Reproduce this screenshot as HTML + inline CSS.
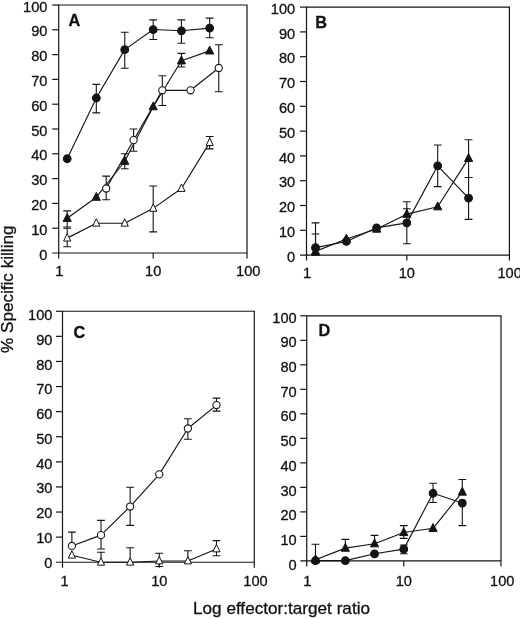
<!DOCTYPE html>
<html>
<head>
<meta charset="utf-8">
<title>Specific killing vs effector:target ratio</title>
<style>
html,body{margin:0;padding:0;background:#fff;}
body{width:520px;height:619px;overflow:hidden;}
svg{display:block;will-change:transform;transform:translateZ(0);}
text{font-family:"Liberation Sans",sans-serif;fill:#111;stroke:#111;stroke-width:0.3px;}
.t{font-size:14.6px;}
.b{font-size:15.8px;font-weight:bold;}
.l{font-size:17px;}
</style>
</head>
<body>
<svg width="520" height="619" viewBox="0 0 520 619">
<path d="M58.7 258.5 L58.7 5 L247 5 L247 258.5 M52.2 253 L247 253" fill="none" stroke="#141414" stroke-width="1.2"/>
<text x="47.4" y="259.6" text-anchor="end" class="t">0</text>
<path d="M52.2 228.2 H58.7" stroke="#141414" stroke-width="1.2"/>
<text x="47.4" y="234.8" text-anchor="end" class="t">10</text>
<path d="M52.2 203.4 H58.7" stroke="#141414" stroke-width="1.2"/>
<text x="47.4" y="210" text-anchor="end" class="t">20</text>
<path d="M52.2 178.6 H58.7" stroke="#141414" stroke-width="1.2"/>
<text x="47.4" y="185.2" text-anchor="end" class="t">30</text>
<path d="M52.2 153.8 H58.7" stroke="#141414" stroke-width="1.2"/>
<text x="47.4" y="160.4" text-anchor="end" class="t">40</text>
<path d="M52.2 129 H58.7" stroke="#141414" stroke-width="1.2"/>
<text x="47.4" y="135.6" text-anchor="end" class="t">50</text>
<path d="M52.2 104.2 H58.7" stroke="#141414" stroke-width="1.2"/>
<text x="47.4" y="110.8" text-anchor="end" class="t">60</text>
<path d="M52.2 79.4 H58.7" stroke="#141414" stroke-width="1.2"/>
<text x="47.4" y="86" text-anchor="end" class="t">70</text>
<path d="M52.2 54.6 H58.7" stroke="#141414" stroke-width="1.2"/>
<text x="47.4" y="61.2" text-anchor="end" class="t">80</text>
<path d="M52.2 29.8 H58.7" stroke="#141414" stroke-width="1.2"/>
<text x="47.4" y="36.4" text-anchor="end" class="t">90</text>
<path d="M52.2 5 H58.7" stroke="#141414" stroke-width="1.2"/>
<text x="47.4" y="11.6" text-anchor="end" class="t">100</text>
<text x="59.3" y="275.7" text-anchor="middle" class="t">1</text>
<path d="M153.2 253 V258.5" stroke="#141414" stroke-width="1.2"/>
<text x="153.2" y="275.7" text-anchor="middle" class="t">10</text>
<text x="248.2" y="275.7" text-anchor="middle" class="t">100</text>
<text transform="translate(68.6 26.3) scale(1.03 1.06)" class="b">A</text>
<path d="M67.2 238.12 L96.31 223.24 L124.75 223.24 L153.2 208.36 L181.44 188.52 L209.67 142.64" fill="none" stroke="#141414" stroke-width="1.15" stroke-linejoin="round"/>
<path d="M106.18 188.52 L133.58 140.16 L162.29 90.31 L190.53 90.31 L218.76 67.99" fill="none" stroke="#141414" stroke-width="1.15" stroke-linejoin="round"/>
<path d="M67.2 218.28 L96.31 197.2 L124.75 161.24 L153.2 106.68 L181.44 60.8 L209.67 50.88" fill="none" stroke="#141414" stroke-width="1.15" stroke-linejoin="round"/>
<path d="M67.2 158.76 L96.31 98 L124.75 49.64 L153.2 29.55 L181.44 30.79 L209.67 28.06" fill="none" stroke="#141414" stroke-width="1.15" stroke-linejoin="round"/>
<path d="M67.2 228.2 V246.8 M63.3 228.2 H71.1 M63.3 246.8 H71.1" fill="none" stroke="#141414" stroke-width="1.1"/>
<path d="M153.2 186.04 V231.92 M149.3 186.04 H157.1 M149.3 231.92 H157.1" fill="none" stroke="#141414" stroke-width="1.1"/>
<path d="M209.67 136.44 V148.84 M205.77 136.44 H213.57 M205.77 148.84 H213.57" fill="none" stroke="#141414" stroke-width="1.1"/>
<path d="M106.18 176.12 V199.68 M102.28 176.12 H110.08 M102.28 199.68 H110.08" fill="none" stroke="#141414" stroke-width="1.1"/>
<path d="M133.58 129 V151.32 M129.68 129 H137.48 M129.68 151.32 H137.48" fill="none" stroke="#141414" stroke-width="1.1"/>
<path d="M162.29 75.68 V105.44 M158.39 75.68 H166.19 M158.39 105.44 H166.19" fill="none" stroke="#141414" stroke-width="1.1"/>
<path d="M218.76 44.68 V91.8 M214.86 44.68 H222.66 M214.86 91.8 H222.66" fill="none" stroke="#141414" stroke-width="1.1"/>
<path d="M67.2 210.84 V226.96 M63.3 210.84 H71.1 M63.3 226.96 H71.1" fill="none" stroke="#141414" stroke-width="1.1"/>
<path d="M124.75 153.8 V168.68 M120.85 153.8 H128.65 M120.85 168.68 H128.65" fill="none" stroke="#141414" stroke-width="1.1"/>
<path d="M181.44 53.36 V67 M177.54 53.36 H185.34 M177.54 67 H185.34" fill="none" stroke="#141414" stroke-width="1.1"/>
<path d="M96.31 84.36 V112.88 M92.41 84.36 H100.21 M92.41 112.88 H100.21" fill="none" stroke="#141414" stroke-width="1.1"/>
<path d="M124.75 32.28 V68.24 M120.85 32.28 H128.65 M120.85 68.24 H128.65" fill="none" stroke="#141414" stroke-width="1.1"/>
<path d="M153.2 19.88 V39.47 M149.3 19.88 H157.1 M149.3 39.47 H157.1" fill="none" stroke="#141414" stroke-width="1.1"/>
<path d="M181.44 19.88 V43.19 M177.54 19.88 H185.34 M177.54 43.19 H185.34" fill="none" stroke="#141414" stroke-width="1.1"/>
<path d="M209.67 18.14 V37.74 M205.77 18.14 H213.57 M205.77 37.74 H213.57" fill="none" stroke="#141414" stroke-width="1.1"/>
<path d="M67.2 233.62 L70.8 241.02 L63.6 241.02 Z" fill="#fff" stroke="#141414" stroke-width="1" stroke-linejoin="miter"/>
<path d="M96.31 218.74 L99.91 226.14 L92.71 226.14 Z" fill="#fff" stroke="#141414" stroke-width="1" stroke-linejoin="miter"/>
<path d="M124.75 218.74 L128.35 226.14 L121.15 226.14 Z" fill="#fff" stroke="#141414" stroke-width="1" stroke-linejoin="miter"/>
<path d="M153.2 203.86 L156.8 211.26 L149.6 211.26 Z" fill="#fff" stroke="#141414" stroke-width="1" stroke-linejoin="miter"/>
<path d="M181.44 184.02 L185.04 191.42 L177.84 191.42 Z" fill="#fff" stroke="#141414" stroke-width="1" stroke-linejoin="miter"/>
<path d="M209.67 138.14 L213.27 145.54 L206.07 145.54 Z" fill="#fff" stroke="#141414" stroke-width="1" stroke-linejoin="miter"/>
<circle cx="106.18" cy="188.52" r="3.6" fill="#fff" stroke="#141414" stroke-width="1.1"/>
<circle cx="133.58" cy="140.16" r="3.6" fill="#fff" stroke="#141414" stroke-width="1.1"/>
<circle cx="162.29" cy="90.31" r="3.6" fill="#fff" stroke="#141414" stroke-width="1.1"/>
<circle cx="190.53" cy="90.31" r="3.6" fill="#fff" stroke="#141414" stroke-width="1.1"/>
<circle cx="218.76" cy="67.99" r="3.6" fill="#fff" stroke="#141414" stroke-width="1.1"/>
<path d="M67.2 213.48 L71.3 221.38 L63.1 221.38 Z" fill="#141414" stroke="#141414" stroke-width="1" stroke-linejoin="miter"/>
<path d="M96.31 192.4 L100.41 200.3 L92.21 200.3 Z" fill="#141414" stroke="#141414" stroke-width="1" stroke-linejoin="miter"/>
<path d="M124.75 156.44 L128.85 164.34 L120.65 164.34 Z" fill="#141414" stroke="#141414" stroke-width="1" stroke-linejoin="miter"/>
<path d="M153.2 101.88 L157.3 109.78 L149.1 109.78 Z" fill="#141414" stroke="#141414" stroke-width="1" stroke-linejoin="miter"/>
<path d="M181.44 56 L185.54 63.9 L177.34 63.9 Z" fill="#141414" stroke="#141414" stroke-width="1" stroke-linejoin="miter"/>
<path d="M209.67 46.08 L213.77 53.98 L205.57 53.98 Z" fill="#141414" stroke="#141414" stroke-width="1" stroke-linejoin="miter"/>
<circle cx="67.2" cy="158.76" r="3.85" fill="#141414" stroke="#141414" stroke-width="1.1"/>
<circle cx="96.31" cy="98" r="3.85" fill="#141414" stroke="#141414" stroke-width="1.1"/>
<circle cx="124.75" cy="49.64" r="3.85" fill="#141414" stroke="#141414" stroke-width="1.1"/>
<circle cx="153.2" cy="29.55" r="3.85" fill="#141414" stroke="#141414" stroke-width="1.1"/>
<circle cx="181.44" cy="30.79" r="3.85" fill="#141414" stroke="#141414" stroke-width="1.1"/>
<circle cx="209.67" cy="28.06" r="3.85" fill="#141414" stroke="#141414" stroke-width="1.1"/>
<path d="M306.5 260.6 L306.5 7.1 L509.4 7.1 L509.4 260.6 M300 255.1 L509.4 255.1" fill="none" stroke="#141414" stroke-width="1.2"/>
<text x="295.2" y="261.7" text-anchor="end" class="t">0</text>
<path d="M300 230.3 H306.5" stroke="#141414" stroke-width="1.2"/>
<text x="295.2" y="236.9" text-anchor="end" class="t">10</text>
<path d="M300 205.5 H306.5" stroke="#141414" stroke-width="1.2"/>
<text x="295.2" y="212.1" text-anchor="end" class="t">20</text>
<path d="M300 180.7 H306.5" stroke="#141414" stroke-width="1.2"/>
<text x="295.2" y="187.3" text-anchor="end" class="t">30</text>
<path d="M300 155.9 H306.5" stroke="#141414" stroke-width="1.2"/>
<text x="295.2" y="162.5" text-anchor="end" class="t">40</text>
<path d="M300 131.1 H306.5" stroke="#141414" stroke-width="1.2"/>
<text x="295.2" y="137.7" text-anchor="end" class="t">50</text>
<path d="M300 106.3 H306.5" stroke="#141414" stroke-width="1.2"/>
<text x="295.2" y="112.9" text-anchor="end" class="t">60</text>
<path d="M300 81.5 H306.5" stroke="#141414" stroke-width="1.2"/>
<text x="295.2" y="88.1" text-anchor="end" class="t">70</text>
<path d="M300 56.7 H306.5" stroke="#141414" stroke-width="1.2"/>
<text x="295.2" y="63.3" text-anchor="end" class="t">80</text>
<path d="M300 31.9 H306.5" stroke="#141414" stroke-width="1.2"/>
<text x="295.2" y="38.5" text-anchor="end" class="t">90</text>
<path d="M300 7.1 H306.5" stroke="#141414" stroke-width="1.2"/>
<text x="295.2" y="13.7" text-anchor="end" class="t">100</text>
<text x="307.1" y="277.6" text-anchor="middle" class="t">1</text>
<path d="M406.8 255.1 V260.6" stroke="#141414" stroke-width="1.2"/>
<text x="406.8" y="277.6" text-anchor="middle" class="t">10</text>
<text x="509.6" y="277.6" text-anchor="middle" class="t">100</text>
<text transform="translate(315.2 27.6) scale(1.03 1.06)" class="b">B</text>
<path d="M315.52 251.38 L346.41 238.98 L376.61 229.06 L406.8 214.18 L437.69 206.74 L468.57 158.38" fill="none" stroke="#141414" stroke-width="1.15" stroke-linejoin="round"/>
<path d="M315.52 247.66 L346.41 241.46 L376.61 227.82 L406.8 222.86 L437.69 165.82 L468.57 198.06" fill="none" stroke="#141414" stroke-width="1.15" stroke-linejoin="round"/>
<path d="M315.52 234.02 V251.38 M311.62 234.02 H319.42" fill="none" stroke="#141414" stroke-width="1.1"/>
<path d="M406.8 208.72 V214.18 M402.9 208.72 H410.7" fill="none" stroke="#141414" stroke-width="1.1"/>
<path d="M468.57 139.78 V177.48 M464.67 139.78 H472.47 M464.67 177.48 H472.47" fill="none" stroke="#141414" stroke-width="1.1"/>
<path d="M315.52 222.86 V255.1 M311.62 222.86 H319.42 M311.62 255.1 H319.42" fill="none" stroke="#141414" stroke-width="1.1"/>
<path d="M406.8 201.78 V243.69 M402.9 201.78 H410.7 M402.9 243.69 H410.7" fill="none" stroke="#141414" stroke-width="1.1"/>
<path d="M437.69 144.99 V186.65 M433.79 144.99 H441.59 M433.79 186.65 H441.59" fill="none" stroke="#141414" stroke-width="1.1"/>
<path d="M468.57 177.48 V219.39 M464.67 177.48 H472.47 M464.67 219.39 H472.47" fill="none" stroke="#141414" stroke-width="1.1"/>
<path d="M315.52 246.58 L319.62 254.48 L311.42 254.48 Z" fill="#141414" stroke="#141414" stroke-width="1" stroke-linejoin="miter"/>
<path d="M346.41 234.18 L350.51 242.08 L342.31 242.08 Z" fill="#141414" stroke="#141414" stroke-width="1" stroke-linejoin="miter"/>
<path d="M376.61 224.26 L380.71 232.16 L372.51 232.16 Z" fill="#141414" stroke="#141414" stroke-width="1" stroke-linejoin="miter"/>
<path d="M406.8 209.38 L410.9 217.28 L402.7 217.28 Z" fill="#141414" stroke="#141414" stroke-width="1" stroke-linejoin="miter"/>
<path d="M437.69 201.94 L441.79 209.84 L433.59 209.84 Z" fill="#141414" stroke="#141414" stroke-width="1" stroke-linejoin="miter"/>
<path d="M468.57 153.58 L472.67 161.48 L464.47 161.48 Z" fill="#141414" stroke="#141414" stroke-width="1" stroke-linejoin="miter"/>
<circle cx="315.52" cy="247.66" r="3.85" fill="#141414" stroke="#141414" stroke-width="1.1"/>
<circle cx="346.41" cy="241.46" r="3.85" fill="#141414" stroke="#141414" stroke-width="1.1"/>
<circle cx="376.61" cy="227.82" r="3.85" fill="#141414" stroke="#141414" stroke-width="1.1"/>
<circle cx="406.8" cy="222.86" r="3.85" fill="#141414" stroke="#141414" stroke-width="1.1"/>
<circle cx="437.69" cy="165.82" r="3.85" fill="#141414" stroke="#141414" stroke-width="1.1"/>
<circle cx="468.57" cy="198.06" r="3.85" fill="#141414" stroke="#141414" stroke-width="1.1"/>
<path d="M62.5 567.75 L62.5 311.25 L254.3 311.25 L254.3 567.75 M56 562.25 L254.3 562.25" fill="none" stroke="#141414" stroke-width="1.2"/>
<text x="52.4" y="567.75" text-anchor="end" class="t">0</text>
<path d="M56 537.15 H62.5" stroke="#141414" stroke-width="1.2"/>
<text x="52.4" y="542.99" text-anchor="end" class="t">10</text>
<path d="M56 512.05 H62.5" stroke="#141414" stroke-width="1.2"/>
<text x="52.4" y="518.23" text-anchor="end" class="t">20</text>
<path d="M56 486.95 H62.5" stroke="#141414" stroke-width="1.2"/>
<text x="52.4" y="493.47" text-anchor="end" class="t">30</text>
<path d="M56 461.85 H62.5" stroke="#141414" stroke-width="1.2"/>
<text x="52.4" y="468.71" text-anchor="end" class="t">40</text>
<path d="M56 436.75 H62.5" stroke="#141414" stroke-width="1.2"/>
<text x="52.4" y="443.95" text-anchor="end" class="t">50</text>
<path d="M56 411.65 H62.5" stroke="#141414" stroke-width="1.2"/>
<text x="52.4" y="419.19" text-anchor="end" class="t">60</text>
<path d="M56 386.55 H62.5" stroke="#141414" stroke-width="1.2"/>
<text x="52.4" y="394.43" text-anchor="end" class="t">70</text>
<path d="M56 361.45 H62.5" stroke="#141414" stroke-width="1.2"/>
<text x="52.4" y="369.67" text-anchor="end" class="t">80</text>
<path d="M56 336.35 H62.5" stroke="#141414" stroke-width="1.2"/>
<text x="52.4" y="344.91" text-anchor="end" class="t">90</text>
<path d="M56 311.25 H62.5" stroke="#141414" stroke-width="1.2"/>
<text x="52.4" y="320.15" text-anchor="end" class="t">100</text>
<text x="64.6" y="585.75" text-anchor="middle" class="t">1</text>
<path d="M159.25 562.25 V567.75" stroke="#141414" stroke-width="1.2"/>
<text x="159.25" y="585.75" text-anchor="middle" class="t">10</text>
<text x="255.5" y="585.75" text-anchor="middle" class="t">100</text>
<text transform="translate(73.5 338.3) scale(1.03 1.06)" class="b">C</text>
<path d="M71.88 555.22 L101 562.25 L130.13 562.25 L159.25 561 L187.86 561 L216.48 548.95" fill="none" stroke="#141414" stroke-width="1.15" stroke-linejoin="round"/>
<path d="M71.88 545.93 L101 535.14 L130.13 506.53 L159.25 474.4 L187.86 428.47 L216.48 405.12" fill="none" stroke="#141414" stroke-width="1.15" stroke-linejoin="round"/>
<path d="M101 552.21 V562.25 M97.1 552.21 H104.9" fill="none" stroke="#141414" stroke-width="1.1"/>
<path d="M130.13 547.69 V562.25 M126.23 547.69 H134.03" fill="none" stroke="#141414" stroke-width="1.1"/>
<path d="M159.25 553.21 V566.52 M155.35 553.21 H163.15 M155.35 566.52 H163.15" fill="none" stroke="#141414" stroke-width="1.1"/>
<path d="M187.86 550.7 V561 M183.96 550.7 H191.76" fill="none" stroke="#141414" stroke-width="1.1"/>
<path d="M216.48 540.66 V555.72 M212.58 540.66 H220.38 M212.58 555.72 H220.38" fill="none" stroke="#141414" stroke-width="1.1"/>
<path d="M71.88 532.13 V545.93 M67.98 532.13 H75.78" fill="none" stroke="#141414" stroke-width="1.1"/>
<path d="M101 520.33 V548.95 M97.1 520.33 H104.9 M97.1 548.95 H104.9" fill="none" stroke="#141414" stroke-width="1.1"/>
<path d="M130.13 487.2 V525.35 M126.23 487.2 H134.03 M126.23 525.35 H134.03" fill="none" stroke="#141414" stroke-width="1.1"/>
<path d="M187.86 418.68 V439.26 M183.96 418.68 H191.76 M183.96 439.26 H191.76" fill="none" stroke="#141414" stroke-width="1.1"/>
<path d="M216.48 398.1 V411.15 M212.58 398.1 H220.38 M212.58 411.15 H220.38" fill="none" stroke="#141414" stroke-width="1.1"/>
<path d="M71.88 550.72 L75.48 558.12 L68.28 558.12 Z" fill="#fff" stroke="#141414" stroke-width="1" stroke-linejoin="miter"/>
<path d="M101 557.75 L104.6 565.15 L97.4 565.15 Z" fill="#fff" stroke="#141414" stroke-width="1" stroke-linejoin="miter"/>
<path d="M130.13 557.75 L133.73 565.15 L126.53 565.15 Z" fill="#fff" stroke="#141414" stroke-width="1" stroke-linejoin="miter"/>
<path d="M159.25 556.5 L162.85 563.89 L155.65 563.89 Z" fill="#fff" stroke="#141414" stroke-width="1" stroke-linejoin="miter"/>
<path d="M187.86 556.5 L191.46 563.89 L184.26 563.89 Z" fill="#fff" stroke="#141414" stroke-width="1" stroke-linejoin="miter"/>
<path d="M216.48 544.45 L220.08 551.85 L212.88 551.85 Z" fill="#fff" stroke="#141414" stroke-width="1" stroke-linejoin="miter"/>
<circle cx="71.88" cy="545.93" r="3.6" fill="#fff" stroke="#141414" stroke-width="1.1"/>
<circle cx="101" cy="535.14" r="3.6" fill="#fff" stroke="#141414" stroke-width="1.1"/>
<circle cx="130.13" cy="506.53" r="3.6" fill="#fff" stroke="#141414" stroke-width="1.1"/>
<circle cx="159.25" cy="474.4" r="3.6" fill="#fff" stroke="#141414" stroke-width="1.1"/>
<circle cx="187.86" cy="428.47" r="3.6" fill="#fff" stroke="#141414" stroke-width="1.1"/>
<circle cx="216.48" cy="405.12" r="3.6" fill="#fff" stroke="#141414" stroke-width="1.1"/>
<path d="M306.75 566.4 L306.75 315.8 L501 315.8 L501 566.4 M300.25 560.9 L501 560.9" fill="none" stroke="#141414" stroke-width="1.2"/>
<text x="296.65" y="569.6" text-anchor="end" class="t">0</text>
<path d="M300.25 536.39 H306.75" stroke="#141414" stroke-width="1.2"/>
<text x="296.65" y="544.9" text-anchor="end" class="t">10</text>
<path d="M300.25 511.88 H306.75" stroke="#141414" stroke-width="1.2"/>
<text x="296.65" y="520.2" text-anchor="end" class="t">20</text>
<path d="M300.25 487.37 H306.75" stroke="#141414" stroke-width="1.2"/>
<text x="296.65" y="495.5" text-anchor="end" class="t">30</text>
<path d="M300.25 462.86 H306.75" stroke="#141414" stroke-width="1.2"/>
<text x="296.65" y="470.8" text-anchor="end" class="t">40</text>
<path d="M300.25 438.35 H306.75" stroke="#141414" stroke-width="1.2"/>
<text x="296.65" y="446.1" text-anchor="end" class="t">50</text>
<path d="M300.25 413.84 H306.75" stroke="#141414" stroke-width="1.2"/>
<text x="296.65" y="421.4" text-anchor="end" class="t">60</text>
<path d="M300.25 389.33 H306.75" stroke="#141414" stroke-width="1.2"/>
<text x="296.65" y="396.7" text-anchor="end" class="t">70</text>
<path d="M300.25 364.82 H306.75" stroke="#141414" stroke-width="1.2"/>
<text x="296.65" y="372" text-anchor="end" class="t">80</text>
<path d="M300.25 340.31 H306.75" stroke="#141414" stroke-width="1.2"/>
<text x="296.65" y="347.3" text-anchor="end" class="t">90</text>
<path d="M300.25 315.8 H306.75" stroke="#141414" stroke-width="1.2"/>
<text x="296.65" y="322.6" text-anchor="end" class="t">100</text>
<text x="307.35" y="585.7" text-anchor="middle" class="t">1</text>
<path d="M403.75 560.9 V566.4" stroke="#141414" stroke-width="1.2"/>
<text x="403.75" y="585.7" text-anchor="middle" class="t">10</text>
<text x="502.2" y="585.7" text-anchor="middle" class="t">100</text>
<text transform="translate(318.5 336.4) scale(1.03 1.06)" class="b">D</text>
<path d="M315.47 559.67 L345.35 548.15 L374.55 543.74 L403.75 532.47 L433.03 528.3 L462.3 492.03" fill="none" stroke="#141414" stroke-width="1.15" stroke-linejoin="round"/>
<path d="M315.47 560.65 L345.35 560.65 L374.55 553.79 L403.75 549.14 L433.03 493.25 L462.3 503.06" fill="none" stroke="#141414" stroke-width="1.15" stroke-linejoin="round"/>
<path d="M345.35 539.33 V548.15 M341.45 539.33 H349.25" fill="none" stroke="#141414" stroke-width="1.1"/>
<path d="M374.55 535.41 V543.74 M370.65 535.41 H378.45" fill="none" stroke="#141414" stroke-width="1.1"/>
<path d="M403.75 525.61 V538.35 M399.85 525.61 H407.65 M399.85 538.35 H407.65" fill="none" stroke="#141414" stroke-width="1.1"/>
<path d="M462.3 479.53 V492.03 M458.4 479.53 H466.2" fill="none" stroke="#141414" stroke-width="1.1"/>
<path d="M315.47 544.23 V560.65 M311.57 544.23 H319.37" fill="none" stroke="#141414" stroke-width="1.1"/>
<path d="M403.75 544.97 V553.79 M399.85 544.97 H407.65 M399.85 553.79 H407.65" fill="none" stroke="#141414" stroke-width="1.1"/>
<path d="M433.03 483.2 V502.57 M429.13 483.2 H436.93 M429.13 502.57 H436.93" fill="none" stroke="#141414" stroke-width="1.1"/>
<path d="M462.3 503.06 V525.61 M458.4 525.61 H466.2" fill="none" stroke="#141414" stroke-width="1.1"/>
<path d="M315.47 554.87 L319.57 562.77 L311.37 562.77 Z" fill="#141414" stroke="#141414" stroke-width="1" stroke-linejoin="miter"/>
<path d="M345.35 543.35 L349.45 551.25 L341.25 551.25 Z" fill="#141414" stroke="#141414" stroke-width="1" stroke-linejoin="miter"/>
<path d="M374.55 538.94 L378.65 546.84 L370.45 546.84 Z" fill="#141414" stroke="#141414" stroke-width="1" stroke-linejoin="miter"/>
<path d="M403.75 527.67 L407.85 535.57 L399.65 535.57 Z" fill="#141414" stroke="#141414" stroke-width="1" stroke-linejoin="miter"/>
<path d="M433.03 523.5 L437.13 531.4 L428.93 531.4 Z" fill="#141414" stroke="#141414" stroke-width="1" stroke-linejoin="miter"/>
<path d="M462.3 487.23 L466.4 495.13 L458.2 495.13 Z" fill="#141414" stroke="#141414" stroke-width="1" stroke-linejoin="miter"/>
<circle cx="315.47" cy="560.65" r="3.85" fill="#141414" stroke="#141414" stroke-width="1.1"/>
<circle cx="345.35" cy="560.65" r="3.85" fill="#141414" stroke="#141414" stroke-width="1.1"/>
<circle cx="374.55" cy="553.79" r="3.85" fill="#141414" stroke="#141414" stroke-width="1.1"/>
<circle cx="403.75" cy="549.14" r="3.85" fill="#141414" stroke="#141414" stroke-width="1.1"/>
<circle cx="433.03" cy="493.25" r="3.85" fill="#141414" stroke="#141414" stroke-width="1.1"/>
<circle cx="462.3" cy="503.06" r="3.85" fill="#141414" stroke="#141414" stroke-width="1.1"/>
<text x="193" y="613.5" class="l" textLength="177" lengthAdjust="spacingAndGlyphs">Log effector:target ratio</text>
<text transform="translate(13.4 353) rotate(-90)" class="l" textLength="127.5" lengthAdjust="spacingAndGlyphs">% Specific killing</text>
</svg>
</body>
</html>
